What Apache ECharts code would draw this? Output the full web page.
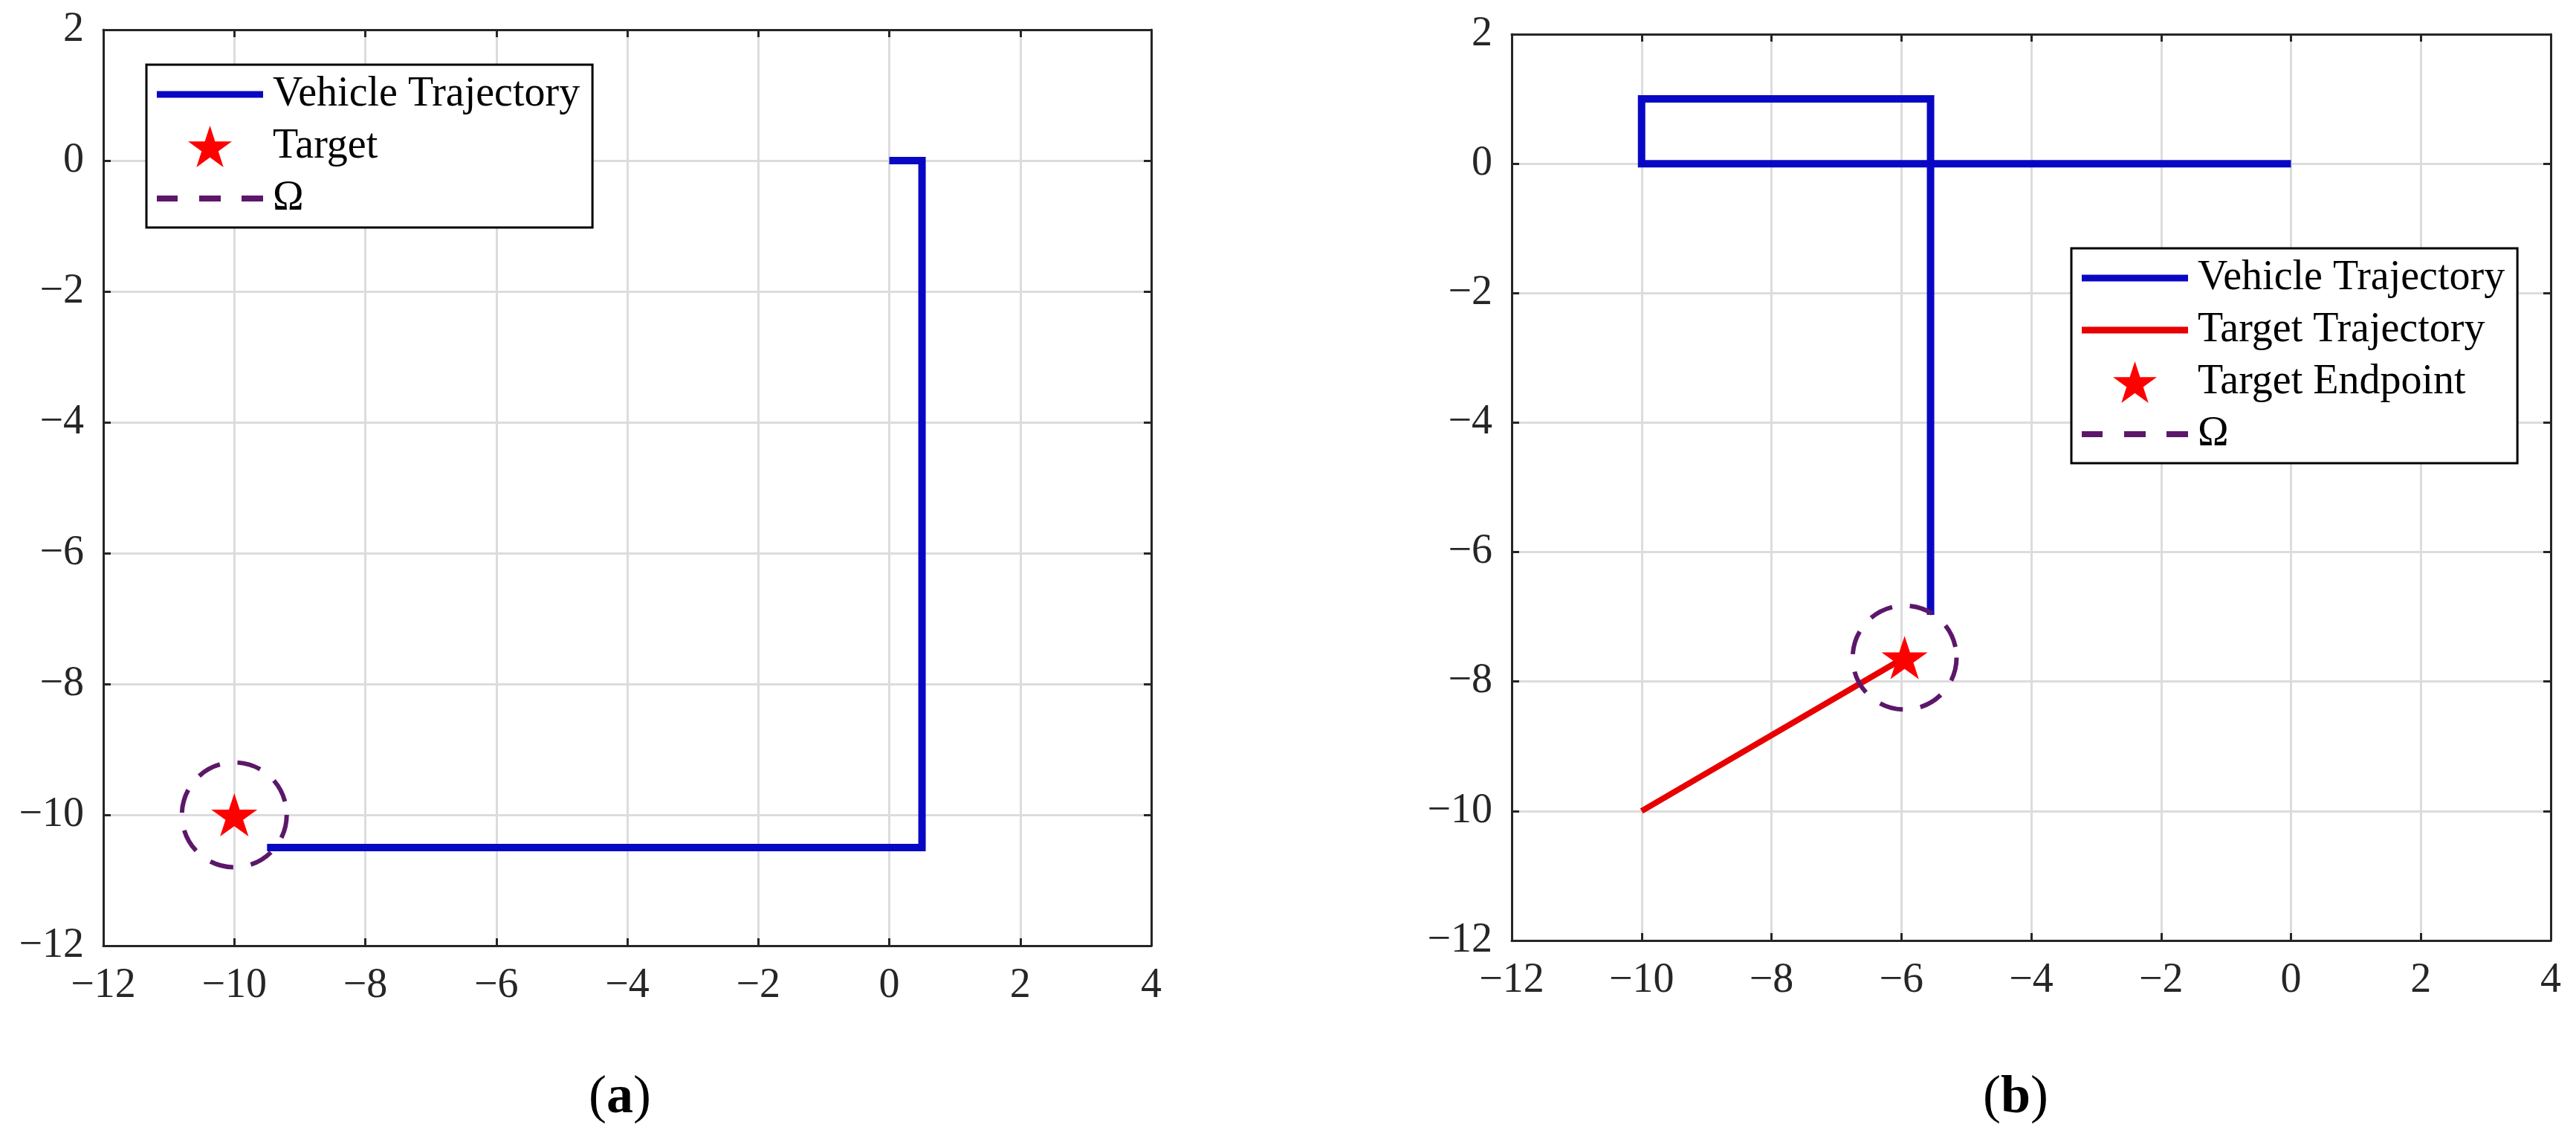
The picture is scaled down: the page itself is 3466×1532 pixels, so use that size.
<!DOCTYPE html>
<html>
<head>
<meta charset="utf-8">
<script src="https://cdn.jsdelivr.net/npm/echarts@6/dist/echarts.min.js"></script>
<style>
html,body{margin:0;padding:0;background:#fff;}
#c{width:3466px;height:1532px;}
</style>
</head>
<body>
<div id="c"></div>
<script>
// ---- data ----
const xTicks = [-12, -10, -8, -6, -4, -2, 0, 2, 4];
const yTicks = [-12, -10, -8, -6, -4, -2, 0, 2];
// panel (a)
const vehicleA = [[0, 0], [0.5, 0], [0.5, -10.5], [-9.5, -10.5]];
const targetA = [[-10, -10]];
const omegaA = [[-10, -10, 0.8]];   // centre x, centre y, radius
// panel (b)
const vehicleB = [[0, 0], [-10, 0], [-10, 1], [-5.55, 1], [-5.55, -6.97]];
const targetTrajB = [[-10, -10], [-5.95, -7.63]];
const targetEndB = [[-5.95, -7.63]];
const omegaB = [[-5.95, -7.63, 0.8]];
const captions = ['a', 'b'];

// ---- styles ----
const FONT = 'Liberation Serif';
const BLUE = '#0808C4';
const RED = '#E80000';
const PURPLE = '#5C176A';
const STAR = 'path://M50,0 L61.2,34.5 L97.6,34.5 L68.2,55.9 L79.4,90.5 L50,69.1 L20.6,90.5 L31.8,55.9 L2.4,34.5 L38.8,34.5 Z';
const DASH_ICON = 'path://M0,0h28v8h-28z M57,0h29v8h-29z M114,0h29v8h-29z';
const LINE_ICON = 'path://M0,0h143v9h-143z';
const fmt = v => String(v).replace('-', '\u2212');

const grids = [
  {left: 139, top: 40, width: 1410, height: 1232},
  {left: 2034, top: 46, width: 1398, height: 1219}
];

function xAxes(g) {
  const base = {
    type: 'value', gridIndex: g, min: xTicks[0], max: xTicks[xTicks.length - 1], interval: 2,
    axisLine: {show: true, onZero: false, lineStyle: {color: '#262626', width: 3}},
    axisTick: {show: true, inside: true, length: 10, lineStyle: {color: '#262626', width: 3}}
  };
  return [
    Object.assign({}, base, {
      position: 'bottom',
      axisLabel: {show: true, fontFamily: FONT, fontSize: 56, color: '#262626', margin: 26,
        formatter: fmt, showMinLabel: true, showMaxLabel: true},
      splitLine: {show: true, lineStyle: {color: '#DCDCDC', width: 3}}
    }),
    Object.assign({}, base, {
      position: 'top', axisLabel: {show: false}, splitLine: {show: false}
    })
  ];
}
function yAxes(g) {
  const base = {
    type: 'value', gridIndex: g, min: yTicks[0], max: yTicks[yTicks.length - 1], interval: 2,
    axisLine: {show: true, onZero: false, lineStyle: {color: '#262626', width: 3}},
    axisTick: {show: true, inside: true, length: 10, lineStyle: {color: '#262626', width: 3}}
  };
  return [
    Object.assign({}, base, {
      position: 'left',
      axisLabel: {show: true, fontFamily: FONT, fontSize: 56, color: '#262626', margin: 26,
        formatter: fmt, showMinLabel: true, showMaxLabel: true},
      splitLine: {show: true, lineStyle: {color: '#DCDCDC', width: 3}}
    }),
    Object.assign({}, base, {
      position: 'right', axisLabel: {show: false}, splitLine: {show: false}
    })
  ];
}

function circleSeries(name, data, axisIdx) {
  return {
    name: name, type: 'custom', xAxisIndex: axisIdx, yAxisIndex: axisIdx,
    itemStyle: {color: PURPLE},
    encode: {x: 0, y: 1},
    data: data,
    z: 5,
    renderItem: function (params, api) {
      const c = api.coord([api.value(0), api.value(1)]);
      const r = api.size([api.value(2), 0])[0];
      return {
        type: 'circle',
        shape: {cx: c[0], cy: c[1], r: r},
        style: {fill: 'none', stroke: PURPLE, lineWidth: 6, lineDash: [32, 24]}
      };
    }
  };
}
function lineSeries(name, data, color, width, axisIdx) {
  return {
    name: name, type: 'line', xAxisIndex: axisIdx, yAxisIndex: axisIdx,
    data: data, symbol: 'none', showSymbol: false, animation: false,
    lineStyle: {color: color, width: width, join: 'miter', cap: 'butt'},
    itemStyle: {color: color}, z: 3
  };
}
function starSeries(name, data, axisIdx) {
  return {
    name: name, type: 'scatter', xAxisIndex: axisIdx, yAxisIndex: axisIdx,
    data: data, symbol: STAR, symbolSize: [62, 58],
    itemStyle: {color: '#FF0000', opacity: 1}, z: 6
  };
}

const legendCommon = {
  orient: 'vertical', itemWidth: 143, itemHeight: 56, itemGap: 14,
  padding: [12, 17, 11, 14],
  borderColor: '#000', borderWidth: 3, backgroundColor: '#fff',
  itemStyle: {borderWidth: 0},
  lineStyle: {width: 0},
  textStyle: {fontFamily: FONT, fontSize: 56, color: '#000', padding: [0, 0, 0, 8]},
  selectedMode: false
};

const capRich = {
  p: {fontFamily: FONT, fontSize: 72, fontWeight: 'normal', color: '#000'},
  b: {fontFamily: FONT, fontSize: 72, fontWeight: 'bold', color: '#000'}
};

const option = {
  backgroundColor: '#fff',
  animation: false,
  grid: grids,
  xAxis: [].concat(xAxes(0), xAxes(1)),
  yAxis: [].concat(yAxes(0), yAxes(1)),
  title: [
    {text: '{p|(}{b|' + captions[0] + '}{p|)}', left: 829, top: 1436, textAlign: 'center',
      textStyle: {fontWeight: 'normal', rich: capRich}},
    {text: '{p|(}{b|' + captions[1] + '}{p|)}', left: 2707, top: 1436, textAlign: 'center',
      textStyle: {fontWeight: 'normal', rich: capRich}}
  ],
  legend: [
    Object.assign({}, legendCommon, {
      left: 197, top: 87,
      data: [{name: 'Vehicle Trajectory', icon: LINE_ICON}, {name: 'Target'}, {name: '\u03A9', icon: DASH_ICON}]
    }),
    Object.assign({}, legendCommon, {
      left: 2787, top: 334,
      data: [{name: 'Vehicle Trajectory', icon: LINE_ICON}, {name: 'Target Trajectory', icon: LINE_ICON},
        {name: 'Target Endpoint'}, {name: '\u03A9', icon: DASH_ICON}]
    })
  ],
  series: [
    lineSeries('Vehicle Trajectory', vehicleA, BLUE, 10, 0),
    starSeries('Target', targetA, 0),
    circleSeries('\u03A9', omegaA, 0),
    lineSeries('Vehicle Trajectory', vehicleB, BLUE, 10, 2),
    lineSeries('Target Trajectory', targetTrajB, RED, 8, 2),
    starSeries('Target Endpoint', targetEndB, 2),
    circleSeries('\u03A9', omegaB, 2)
  ]
};

const chart = echarts.init(document.getElementById('c'), null, {renderer: 'canvas'});
chart.setOption(option);
</script>
</body>
</html>
